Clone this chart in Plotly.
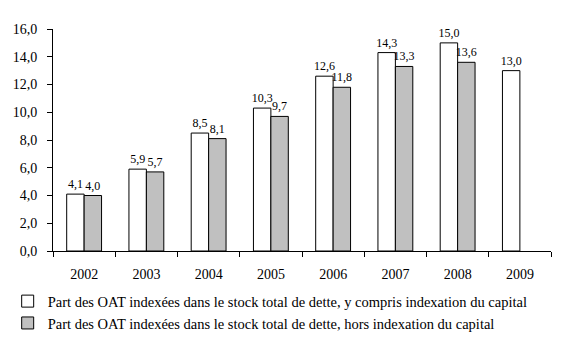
import plotly.graph_objects as go

years = ["2002", "2003", "2004", "2005", "2006", "2007", "2008", "2009"]
incl_capital = [4.1, 5.9, 8.5, 10.3, 12.6, 14.3, 15.0, 13.0]
hors_capital = [4.0, 5.7, 8.1, 9.7, 11.8, 13.3, 13.6, None]
y_ticks = [0, 2, 4, 6, 8, 10, 12, 14, 16]

name1 = "Part des OAT indexées dans le stock total de dette, y compris indexation du capital"
name2 = "Part des OAT indexées dans le stock total de dette, hors indexation du capital"

FONT = "Liberation Serif"
FS = 14

fig = go.Figure()
fig.add_trace(go.Bar(
    x=years, y=incl_capital, name=name1,
    marker=dict(color="white", line=dict(color="black", width=1)),
    texttemplate="%{y:.1f}", textposition="outside", cliponaxis=False,
    constraintext="none", textangle=0,
    textfont=dict(family=FONT, size=12, color="black"),
))
fig.add_trace(go.Bar(
    x=years, y=hors_capital, name=name2,
    marker=dict(color="#c0c0c0", line=dict(color="black", width=1)),
    texttemplate="%{y:.1f}", textposition="outside", cliponaxis=False,
    constraintext="none", textangle=0,
    textfont=dict(family=FONT, size=12, color="black"),
))

fig.update_layout(
    width=566, height=353,
    margin=dict(l=53, r=15, t=29, b=102, autoexpand=False),
    paper_bgcolor="white", plot_bgcolor="white",
    separators=", ",
    barmode="group", bargap=0.44, bargroupgap=0,
    font=dict(family=FONT, size=FS, color="black"),
    showlegend=True,
    legend=dict(
        orientation="v", x=-0.091, xanchor="left", y=-0.154, yanchor="top",
        font=dict(family=FONT, size=14.5, color="black"),
        bgcolor="rgba(0,0,0,0)", itemwidth=30, tracegroupgap=0,
        traceorder="normal",
    ),
)
fig.update_xaxes(
    type="category", showline=True, linecolor="black", linewidth=1,
    ticks="outside", ticklen=5, tickcolor="black", tickson="boundaries",
    showgrid=False, ticklabelstandoff=10,
    tickfont=dict(family=FONT, size=FS, color="black"),
)
fig.update_yaxes(
    range=[0, 16], tickvals=y_ticks, tickformat=".1f",
    showline=True, linecolor="black", linewidth=1,
    ticks="outside", ticklen=5, tickcolor="black",
    showgrid=False, zeroline=False, ticklabelstandoff=7,
    tickfont=dict(family=FONT, size=FS, color="black"),
)

fig.write_html("out.html")
